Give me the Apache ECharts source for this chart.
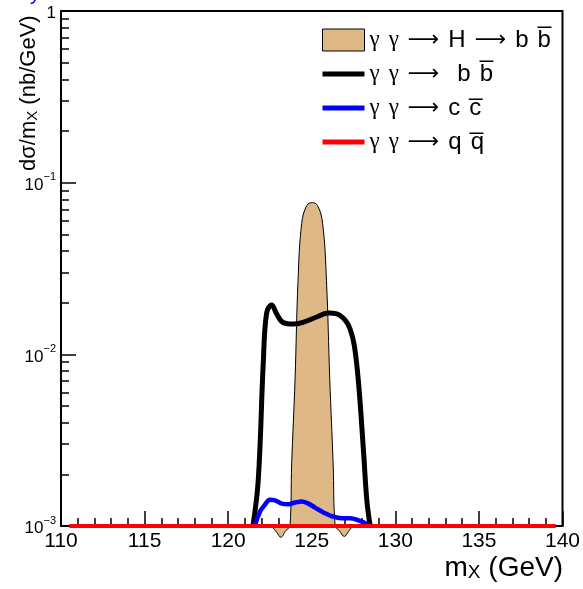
<!DOCTYPE html>
<html>
<head>
<meta charset="utf-8">
<script src="https://cdn.jsdelivr.net/npm/echarts@6/dist/echarts.min.js"></script>
<style>
  html, body { margin: 0; padding: 0; background: #fff; }
  #chart { width: 583px; height: 589px; }
</style>
</head>
<body>
<div id="chart"></div>
<script>
// Invariant-mass spectra for gamma gamma collisions near the Higgs mass
const FONT = 'Liberation Sans, Arial, Helvetica, sans-serif';

// Series names (legend entries)
const nameH  = 'γ γ → H → b b\u0305';
const nameBB = 'γ γ →  b b\u0305';
const nameCC = 'γ γ → c c\u0305';
const nameQQ = 'γ γ → q q\u0305';

// gamma gamma -> H -> b bbar (filled)
const massH = [122.6, 122.9, 123.15, 123.45, 123.7, 123.8, 124.0, 124.18, 124.4, 124.7, 125.03,
               125.35, 125.65, 125.88, 126.08, 126.28, 126.4, 126.65, 126.95, 127.2, 127.45];
const xsecH = [0.001, 0.00092, 0.00086, 0.00094, 0.001, 0.0023, 0.0071, 0.027, 0.058, 0.0735, 0.0765,
               0.0735, 0.058, 0.027, 0.0071, 0.0023, 0.001, 0.00094, 0.00087, 0.00093, 0.001];

// gamma gamma -> b bbar
const massBB = [121.48, 121.8, 122.1, 122.3, 122.6, 122.9, 123.3, 123.9, 124.6, 125.3, 126.0,
                126.5, 127.0, 127.3, 127.55, 127.8, 128.1, 128.3, 128.5];
const xsecBB = [0.001, 0.00185, 0.0089, 0.0174, 0.0194, 0.0172, 0.0153, 0.0150, 0.0155, 0.0165, 0.0174,
                0.0172, 0.0158, 0.0140, 0.0112, 0.0068, 0.0027, 0.0014, 0.001];

// gamma gamma -> c cbar
const massCC = [121.6, 121.9, 122.2, 122.5, 122.8, 123.2, 123.6, 124.0, 124.4, 124.8, 125.2,
                125.7, 126.2, 126.8, 127.3, 127.8, 128.3, 128.5];
const xsecCC = [0.001, 0.00121, 0.00133, 0.00142, 0.00141, 0.00135, 0.00134, 0.00137, 0.00139, 0.00135, 0.00128,
                0.0012, 0.00114, 0.00111, 0.00111, 0.00108, 0.00103, 0.001];

// gamma gamma -> q qbar (light quarks)
const massQQ = [110.5, 139.6];
const xsecQQ = [0.001, 0.001];

// Axis ranges and ticks
const xMin = 110, xMax = 140, xStep = 5;
const yMin = 0.001, yMax = 1;
const yMinorTicks = [0.002, 0.003, 0.004, 0.005, 0.006, 0.007, 0.008, 0.009,
                     0.02, 0.03, 0.04, 0.05, 0.06, 0.07, 0.08, 0.09,
                     0.2, 0.3, 0.4, 0.5, 0.6, 0.7, 0.8, 0.9];

const tan = '#deb887';
const zip = (xs, ys) => xs.map((x, i) => [x, ys[i]]);

const chart = echarts.init(document.getElementById('chart'), null, { renderer: 'canvas' });

function yLabel(v) {
  const e = Math.round(Math.log10(v));
  if (e === 0) return '{b|1}';
  return '{b|10}{s|−' + (-e) + '}';
}

// Legend labels: Greek letters and arrows get their own glyph styles
function legendLabel(name) {
  return name.split(' ').map(tok => {
    if (tok === '') return '';
    if (tok === 'γ') return '{g|γ}';
    if (tok === '→') return '{r|⟶}';
    return '{t|' + tok + '}';
  }).join('{sp| }');
}

chart.setOption({
  animation: false,
  backgroundColor: '#fff',
  grid: {
    left: 61, right: 20, top: 11, bottom: 63,
    show: true, borderColor: '#000', borderWidth: 2, backgroundColor: 'transparent'
  },
  xAxis: {
    type: 'value', min: xMin, max: xMax, interval: xStep,
    axisLine: { lineStyle: { color: '#000', width: 2 } },
    axisTick: { inside: true, length: 15, lineStyle: { color: '#000', width: 1.5 } },
    minorTick: { show: true, splitNumber: 5, length: 8, lineStyle: { color: '#000', width: 1.5 } },
    splitLine: { show: false },
    axisLabel: { color: '#000', fontSize: 21, fontFamily: FONT, margin: 5 }
  },
  yAxis: [{
    type: 'log', logBase: 10, min: yMin, max: yMax,
    axisLine: { lineStyle: { color: '#000', width: 2 } },
    axisTick: { inside: true, length: 15, lineStyle: { color: '#000', width: 1.5 } },
    splitLine: { show: false },
    axisLabel: {
      margin: 5, formatter: yLabel,
      rich: {
        b: { fontSize: 17, fontFamily: FONT, color: '#000', lineHeight: 22, verticalAlign: 'bottom' },
        s: { fontSize: 11, fontFamily: FONT, color: '#000', lineHeight: 22, verticalAlign: 'top' }
      }
    }
  }, {
    type: 'log', logBase: 10, min: yMin, max: yMax, position: 'left', offset: 0,
    axisLine: { show: false },
    axisLabel: { show: false },
    splitLine: { show: false },
    axisTick: { show: true, inside: true, length: 8, customValues: yMinorTicks,
                lineStyle: { color: '#000', width: 1.5 } }
  }],
  legend: {
    orient: 'vertical', left: 315, top: 23,
    itemWidth: 42, itemHeight: 22, itemGap: 10,
    formatter: legendLabel,
    textStyle: {
      color: '#000', padding: [0, 0, 0, 0],
      rich: {
        t: { fontSize: 24, fontFamily: FONT, color: '#000', lineHeight: 24 },
        sp: { fontSize: 24, fontFamily: FONT, color: '#000', lineHeight: 24, width: 9 },
        g: { fontSize: 23, fontFamily: 'Liberation Serif, serif', color: '#000', lineHeight: 24 },
        r: { fontSize: 22, fontFamily: 'DejaVu Sans, sans-serif', color: '#000', lineHeight: 24 }
      }
    },
    data: [
      { name: nameH, icon: 'rect', itemStyle: { color: tan, borderColor: '#000', borderWidth: 1 } },
      { name: nameBB, itemStyle: { opacity: 0 }, lineStyle: { width: 5 } },
      { name: nameCC, itemStyle: { opacity: 0 }, lineStyle: { width: 5 } },
      { name: nameQQ, itemStyle: { opacity: 0 }, lineStyle: { width: 5 } }
    ]
  },
  graphic: [
    {
      type: 'text', left: 30, top: -16,
      style: { text: 'y', fill: '#0000ff', font: '20px ' + FONT }
    },
    {
      type: 'text', x: 14, y: 171, rotation: Math.PI / 2,
      style: {
        text: '{a|dσ/m}{x|X}{a| (nb/GeV)}',
        rich: {
          a: { fontSize: 22, fontFamily: FONT, fill: '#000', verticalAlign: 'bottom', lineHeight: 26 },
          x: { fontSize: 15, fontFamily: FONT, fill: '#000', verticalAlign: 'bottom', lineHeight: 20 }
        }
      }
    },
    {
      type: 'text', right: 20, top: 554,
      style: {
        text: '{a|m}{x|X}{a| (GeV)}',
        rich: {
          a: { fontSize: 28, fontFamily: FONT, fill: '#000', verticalAlign: 'bottom', lineHeight: 32 },
          x: { fontSize: 19, fontFamily: FONT, fill: '#000', verticalAlign: 'bottom', lineHeight: 25 }
        }
      }
    }
  ],
  series: [
    {
      name: nameH, type: 'line', data: zip(massH, xsecH), smooth: 0.4,
      showSymbol: false, symbol: 'none', clip: false,
      lineStyle: { color: '#000', width: 1 },
      itemStyle: { color: tan },
      areaStyle: { color: tan, opacity: 1, origin: 'start' },
      z: 2
    },
    {
      name: nameBB, type: 'line', data: zip(massBB, xsecBB), smooth: 0.4,
      showSymbol: false, symbol: 'none', clip: false,
      lineStyle: { color: '#000', width: 5 }, itemStyle: { color: '#000' }, z: 3
    },
    {
      name: nameCC, type: 'line', data: zip(massCC, xsecCC), smooth: 0.4,
      showSymbol: false, symbol: 'none', clip: false,
      lineStyle: { color: '#0000ff', width: 4.5 }, itemStyle: { color: '#0000ff' }, z: 4
    },
    {
      name: nameQQ, type: 'line', data: zip(massQQ, xsecQQ),
      showSymbol: false, symbol: 'none', clip: false,
      lineStyle: { color: '#ff0000', width: 4 }, itemStyle: { color: '#ff0000' }, z: 5
    }
  ]
});
</script>
</body>
</html>
